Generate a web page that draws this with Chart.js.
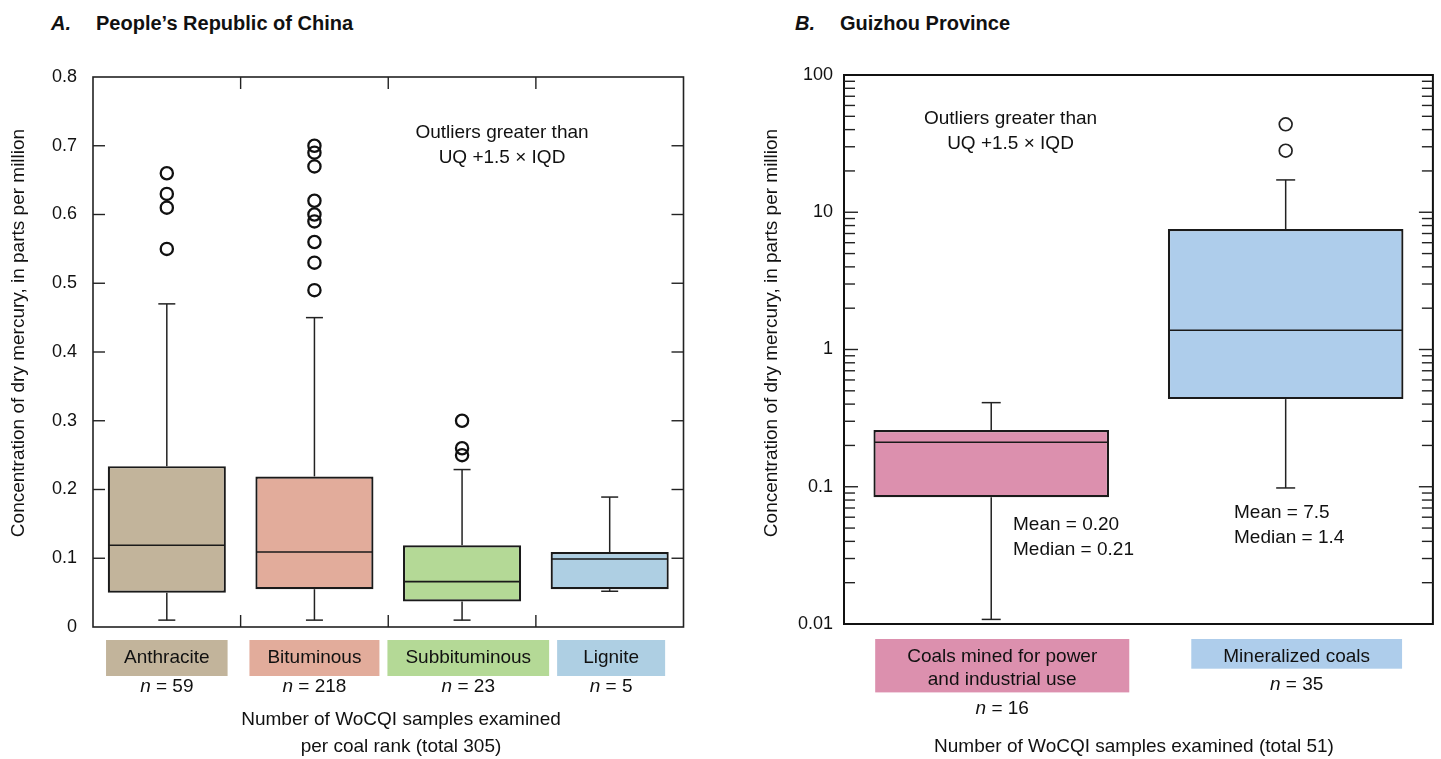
<!DOCTYPE html>
<html><head><meta charset="utf-8">
<script src="https://cdn.jsdelivr.net/npm/chart.js@4/dist/chart.umd.min.js"></script>
<style>
html,body{margin:0;padding:0;background:#fff;}
body{width:1441px;height:759px;position:relative;overflow:hidden;font-family:"Liberation Sans",Arial,sans-serif;color:#111;}
canvas{position:absolute;top:0;}
#cA{left:0;width:720px;height:759px;}
#cB{left:720px;width:721px;height:759px;}
.ttl{position:absolute;font-weight:bold;font-size:20px;line-height:20px;white-space:nowrap;top:13px;}
</style></head><body>
<div class="ttl" style="left:51px;"><i>A.</i></div>
<div class="ttl" style="left:96px;">People’s Republic of China</div>
<div class="ttl" style="left:795px;"><i>B.</i></div>
<div class="ttl" style="left:840px;">Guizhou Province</div>
<canvas id="cA" width="720" height="759"></canvas>
<canvas id="cB" width="721" height="759"></canvas>
<script>
// ---------- Panel A: People's Republic of China ----------
const categoriesA = ['Anthracite', 'Bituminous', 'Subbituminous', 'Lignite'];
const sampleCountsA = [59, 218, 23, 5];
const lowerWhiskerA = [0.01, 0.01, 0.01, 0.052];
const lowerQuartileA = [0.05, 0.055, 0.037, 0.055];
const medianA = [0.119, 0.109, 0.066, 0.099];
const upperQuartileA = [0.234, 0.219, 0.119, 0.109];
const upperWhiskerA = [0.47, 0.45, 0.229, 0.189];
const outliersA = [
  [0.66, 0.63, 0.61, 0.55],
  [0.70, 0.69, 0.67, 0.62, 0.60, 0.59, 0.56, 0.53, 0.49],
  [0.30, 0.26, 0.25],
  []
];
const yTickValuesA = [0, 0.1, 0.2, 0.3, 0.4, 0.5, 0.6, 0.7, 0.8];
const yTickLabelsA = ['0', '0.1', '0.2', '0.3', '0.4', '0.5', '0.6', '0.7', '0.8'];

// ---------- Panel B: Guizhou Province ----------
const categoriesB = ['Coals mined for power and industrial use', 'Mineralized coals'];
const sampleCountsB = [16, 35];
const lowerWhiskerB = [0.0108, 0.098];
const lowerQuartileB = [0.084, 0.435];
const medianB = [0.211, 1.38];
const upperQuartileB = [0.259, 7.55];
const upperWhiskerB = [0.41, 17.2];
const outliersB = [[], [43.7, 28.1]];
const meanLabelsB = ['Mean = 0.20', 'Mean = 7.5'];
const medianLabelsB = ['Median = 0.21', 'Median = 1.4'];
const yTickValuesB = [0.01, 0.1, 1, 10, 100];
const yTickLabelsB = ['0.01', '0.1', '1', '10', '100'];

// ---------- styles ----------
const colorsA = ['#c2b49b', '#e2ac9b', '#b4d996', '#aecfe3'];
const colorsB = ['#dc90ae', '#aecdeb'];
const FONT = '"Liberation Sans", Arial, Helvetica, sans-serif';
const INK = '#111111';
Chart.defaults.font.family = FONT;
Chart.defaults.color = INK;

function line(ctx, x1, y1, x2, y2) { ctx.beginPath(); ctx.moveTo(x1, y1); ctx.lineTo(x2, y2); ctx.stroke(); }

function wrap(ctx, text, maxW) {
  const words = text.split(' '); const out = []; let cur = '';
  words.forEach(w => {
    const t = cur ? cur + ' ' + w : w;
    if (ctx.measureText(t).width > maxW && cur) { out.push(cur); cur = w; } else cur = t;
  });
  if (cur) out.push(cur);
  return out;
}

function makePlugin(cfg) {
  return {
    id: 'boxExtras',
    afterDatasetsDraw(chart) {
      const { ctx } = chart; const y = chart.scales.y;
      const meta = chart.getDatasetMeta(0);
      ctx.save();
      cfg.categories.forEach((c, i) => {
        const bar = meta.data[i]; const cx = bar.x; const hw = bar.width / 2;
        const yLo = y.getPixelForValue(cfg.lo[i]), yQ1 = y.getPixelForValue(cfg.q1[i]);
        const yMed = y.getPixelForValue(cfg.med[i]), yQ3 = y.getPixelForValue(cfg.q3[i]);
        const yHi = y.getPixelForValue(cfg.hi[i]);
        ctx.strokeStyle = '#222'; ctx.lineWidth = 1.5;
        line(ctx, cx, yQ3, cx, yHi); line(ctx, cx - cfg.cap, yHi, cx + cfg.cap, yHi);
        line(ctx, cx, yQ1, cx, yLo); line(ctx, cx - cfg.cap, yLo, cx + cfg.cap, yLo);
        ctx.lineWidth = 1.6; ctx.strokeStyle = '#1a1a1a';
        line(ctx, cx - hw + 1, yMed, cx + hw - 1, yMed);
      });
      ctx.restore();
    },
    afterDraw(chart) {
      const { ctx, chartArea: a } = chart; const x = chart.scales.x, y = chart.scales.y;
      ctx.save();
      // frame
      ctx.strokeStyle = cfg.frameColor; ctx.lineWidth = cfg.frameWidth;
      ctx.strokeRect(a.left, a.top, a.right - a.left, a.bottom - a.top);
      ctx.lineWidth = 1.4; ctx.strokeStyle = '#222';
      // inward y ticks
      if (cfg.log) {
        const e0 = Math.round(Math.log10(y.min)), e1 = Math.round(Math.log10(y.max));
        for (let e = e0; e < e1; e++) {
          for (let k = 1; k <= 9; k++) {
            if (k === 1 && e === e0) continue;
            const py = y.getPixelForValue(k * Math.pow(10, e));
            const len = k === 1 ? 14 : 11;
            line(ctx, a.left, py, a.left + len, py); line(ctx, a.right - len, py, a.right, py);
          }
        }
      } else {
        cfg.tickValues.forEach(v => {
          if (v === y.min || v === y.max) return;
          const py = y.getPixelForValue(v);
          line(ctx, a.left, py, a.left + 12, py); line(ctx, a.right - 12, py, a.right, py);
        });
        for (let i = 1; i < cfg.categories.length; i++) {
          const px = (x.getPixelForValue(i - 1) + x.getPixelForValue(i)) / 2;
          line(ctx, px, a.top, px, a.top + 12); line(ctx, px, a.bottom - 12, px, a.bottom);
        }
      }
      // category label boxes
      ctx.font = '19px ' + FONT; ctx.textAlign = 'center'; ctx.textBaseline = 'middle';
      const boxes = cfg.categories.map((c, i) => {
        const lines = wrap(ctx, c, cfg.wrapW);
        const tw = Math.max(...lines.map(l => ctx.measureText(l).width));
        const w = Math.max(tw + cfg.padX * 2, cfg.minW);
        const cx = x.getPixelForValue(i) + cfg.labelShift;
        return { lines, w, left: cx - w / 2 };
      });
      for (let i = 1; i < boxes.length; i++) {
        const prevRight = boxes[i - 1].left + boxes[i - 1].w;
        if (boxes[i].left < prevRight + cfg.gap) boxes[i].left = prevRight + cfg.gap;
      }
      boxes.forEach((b, i) => {
        const h = b.lines.length * cfg.lineH + cfg.padV;
        ctx.fillStyle = cfg.colors[i];
        ctx.fillRect(b.left, cfg.labelTop, b.w, h);
        ctx.fillStyle = INK;
        const cx = b.left + b.w / 2;
        b.lines.forEach((l, j) => ctx.fillText(l, cx, cfg.labelTop + cfg.padV / 2 + cfg.lineH * (j + 0.5) + cfg.textShift));
        // n = N
        const ny = cfg.labelTop + h + cfg.nGap;
        ctx.font = 'italic 19px ' + FONT; const wn = ctx.measureText('n').width;
        ctx.font = '19px ' + FONT; const rest = ' = ' + cfg.counts[i]; const wr = ctx.measureText(rest).width;
        const sx = cx - (wn + wr) / 2;
        ctx.textAlign = 'left';
        ctx.font = 'italic 19px ' + FONT; ctx.fillText('n', sx, ny);
        ctx.font = '19px ' + FONT; ctx.fillText(rest, sx + wn, ny);
        ctx.textAlign = 'center';
      });
      // free texts
      cfg.texts.forEach(t => {
        ctx.textAlign = t.align || 'center';
        ctx.fillText(t.s, t.x, t.y);
      });
      // y-axis title
      ctx.save();
      ctx.translate(cfg.yTitle.x, cfg.yTitle.y); ctx.rotate(-Math.PI / 2);
      ctx.textAlign = 'center'; ctx.fillText(cfg.yTitle.s, 0, 0);
      ctx.restore();
      ctx.restore();
    }
  };
}

const yTitleText = 'Concentration of dry mercury, in parts per million';

// ---------- Chart A ----------
new Chart(document.getElementById('cA'), {
  type: 'bar',
  data: {
    labels: categoriesA,
    datasets: [
      {
        type: 'bar', data: categoriesA.map((c, i) => [lowerQuartileA[i], upperQuartileA[i]]),
        backgroundColor: colorsA, borderColor: '#1a1a1a', borderWidth: 2.2, borderSkipped: false,
        barPercentage: 0.8, categoryPercentage: 1, order: 2
      },
      {
        type: 'line', showLine: false, order: 1,
        data: outliersA.flatMap((arr, i) => arr.map(v => ({ x: categoriesA[i], y: v }))),
        pointRadius: 6.1, pointBorderWidth: 2.3, pointBackgroundColor: 'rgba(255,255,255,0)', pointBorderColor: '#111'
      }
    ]
  },
  options: {
    responsive: false, animation: false, devicePixelRatio: 1,
    layout: { padding: { left: 0, top: 77, right: 720 - 683.5, bottom: 759 - 627 } },
    plugins: { legend: { display: false }, tooltip: { enabled: false } },
    scales: {
      x: { display: false },
      y: {
        min: 0, max: 0.8,
        afterBuildTicks: s => { s.ticks = yTickValuesA.map(v => ({ value: v })); },
        afterFit: s => { s.width = 93; },
        grid: { display: false, drawTicks: false }, border: { display: false },
        ticks: { autoSkip: false, padding: 16, font: { size: 18 }, color: INK, callback: (v, i) => yTickLabelsA[i] }
      }
    }
  },
  plugins: [makePlugin({
    categories: categoriesA, counts: sampleCountsA, colors: colorsA,
    lo: lowerWhiskerA, q1: lowerQuartileA, med: medianA, q3: upperQuartileA, hi: upperWhiskerA,
    cap: 8.5, log: false, tickValues: yTickValuesA, frameColor: '#222', frameWidth: 1.6,
    wrapW: 400, padX: 18, minW: 108, gap: 8, labelShift: 0, labelTop: 640, lineH: 24, padV: 12, textShift: 0, nGap: 11,
    yTitle: { s: yTitleText, x: 18.5, y: 333 },
    texts: [
      { s: 'Outliers greater than', x: 502, y: 133 },
      { s: 'UQ +1.5 × IQD', x: 502, y: 158 },
      { s: 'Number of WoCQI samples examined', x: 401, y: 720 },
      { s: 'per coal rank (total 305)', x: 401, y: 747 }
    ]
  })]
});

// ---------- Chart B ----------
const OX = 720;
new Chart(document.getElementById('cB'), {
  type: 'bar',
  data: {
    labels: categoriesB,
    datasets: [
      {
        type: 'bar', data: categoriesB.map((c, i) => [lowerQuartileB[i], upperQuartileB[i]]),
        backgroundColor: colorsB, borderColor: '#1a1a1a', borderWidth: 2.2, borderSkipped: false,
        barPercentage: 0.8, categoryPercentage: 1, order: 2
      },
      {
        type: 'line', showLine: false, order: 1,
        data: outliersB.flatMap((arr, i) => arr.map(v => ({ x: categoriesB[i], y: v }))),
        pointRadius: 6.4, pointBorderWidth: 1.7, pointBackgroundColor: 'rgba(255,255,255,0)', pointBorderColor: '#222'
      }
    ]
  },
  options: {
    responsive: false, animation: false, devicePixelRatio: 1,
    layout: { padding: { left: 0, top: 75, right: 721 - (1434 - OX), bottom: 759 - 624 } },
    plugins: { legend: { display: false }, tooltip: { enabled: false } },
    scales: {
      x: { display: false },
      y: {
        type: 'logarithmic', min: 0.01, max: 100,
        afterBuildTicks: s => { s.ticks = yTickValuesB.map(v => ({ value: v, major: true })); },
        afterFit: s => { s.width = 844 - OX; },
        grid: { display: false, drawTicks: false }, border: { display: false },
        ticks: { autoSkip: false, padding: 11, font: { size: 18 }, color: INK, callback: (v, i) => yTickLabelsB[i] }
      }
    }
  },
  plugins: [makePlugin({
    categories: categoriesB, counts: sampleCountsB, colors: colorsB,
    lo: lowerWhiskerB, q1: lowerQuartileB, med: medianB, q3: upperQuartileB, hi: upperWhiskerB,
    cap: 9.5, log: true, frameColor: '#111', frameWidth: 2,
    wrapW: 200, padX: 32, minW: 0, gap: 8, labelShift: 11, labelTop: 639, lineH: 23.7, padV: 6, textShift: 2.5, nGap: 16,
    yTitle: { s: yTitleText, x: 772 - OX, y: 333 },
    texts: [
      { s: 'Outliers greater than', x: 1010.5 - OX, y: 119 },
      { s: 'UQ +1.5 × IQD', x: 1010.5 - OX, y: 144 },
      { s: meanLabelsB[0], x: 1013 - OX, y: 525, align: 'left' },
      { s: medianLabelsB[0], x: 1013 - OX, y: 550, align: 'left' },
      { s: meanLabelsB[1], x: 1234 - OX, y: 513, align: 'left' },
      { s: medianLabelsB[1], x: 1234 - OX, y: 538, align: 'left' },
      { s: 'Number of WoCQI samples examined (total 51)', x: 1134 - OX, y: 747 }
    ]
  })]
});
</script>
</body></html>
